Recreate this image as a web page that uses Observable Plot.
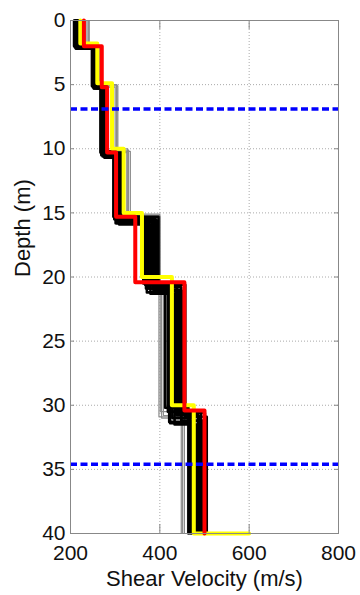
<!DOCTYPE html>
<html>
<head>
<meta charset="utf-8">
<script src="https://cdn.jsdelivr.net/npm/d3@7"></script>
<script src="https://cdn.jsdelivr.net/npm/@observablehq/plot@0.6"></script>
<style>
  html, body { margin: 0; padding: 0; background: #fff; }
  #chart { width: 360px; height: 595px; }
</style>
</head>
<body>
<div id="chart"></div>
<script>
// Axis ticks
const depthTicks = [0, 5, 10, 15, 20, 25, 30, 35, 40];
const velocityTicks = [200, 400, 600, 800];
const gridDepths = [5, 10, 15, 20, 25, 30, 35];
const gridVelocities = [400, 600];

// Depths of the two dashed reference lines (m)
const markerDepths = [6.9, 34.6];

// Ensemble of trial profiles: layer interface depths (m) and layer velocities (m/s)
const ensembleInterfaces = [
  [2.0, 5.1, 10.3, 15.3, 20.5, 30.2],
  [2.1, 5.2, 10.4, 15.5, 20.6, 30.5],
  [2.2, 5.3, 10.6, 15.8, 21.2, 31.4],
  [2.1, 5.1, 10.5, 15.6, 20.9, 31.0],
  [2.0, 5.2, 10.7, 15.9, 21.3, 31.5],
  [2.2, 5.3, 10.4, 15.4, 20.7, 30.8],
  [2.1, 5.0, 10.3, 15.7, 21.0, 30.4],
  [2.0, 5.2, 10.5, 15.5, 20.8, 31.2],
  [2.2, 5.1, 10.6, 15.6, 21.1, 30.6],
  [2.1, 5.3, 10.4, 15.3, 20.6, 30.9],
  [2.0, 5.2, 10.2, 15.8, 20.9, 31.3],
  [2.1, 5.1, 10.5, 15.4, 21.0, 30.7]
];
const ensembleVelocities = [
  [208, 248, 267, 296, 363, 412, 464],
  [210, 250, 270, 300, 367, 418, 468],
  [212, 252, 272, 303, 371, 423, 472],
  [214, 254, 274, 306, 375, 428, 477],
  [216, 256, 276, 309, 379, 433, 482],
  [218, 258, 278, 312, 383, 438, 487],
  [220, 251, 280, 314, 387, 443, 492],
  [211, 255, 269, 298, 391, 448, 497],
  [215, 249, 275, 304, 394, 452, 501],
  [217, 253, 271, 310, 397, 457, 505],
  [213, 257, 277, 301, 369, 421, 474],
  [219, 250, 273, 307, 385, 436, 485]
];

// Outlying trial profiles (drawn in grey)
const outlierInterfaces = [
  [2.0, 5.0, 10.1, 15.2, 20.3, 30.9],
  [2.1, 5.1, 10.2, 15.3, 20.4, 31.0],
  [2.0, 5.2, 10.3, 15.4, 20.5, 30.8],
  [2.2, 5.0, 10.0, 15.1, 20.2, 30.5]
];
const outlierVelocities = [
  [237, 262, 303, 330, 399, 398, 448],
  [242, 265, 306, 334, 401, 404, 455],
  [234, 258, 300, 326, 398, 408, 462],
  [240, 256, 304, 328, 400, 401, 451]
];

// Median profile (yellow), ending with the half-space velocity at 40 m
const medianInterfaces = [1.8, 4.9, 10.0, 15.0, 20.0, 30.0];
const medianVelocities = [222, 260, 293, 319, 360, 427, 476];
const medianHalfSpace = 600;

// Best-fit profile (red)
const bestInterfaces = [2.0, 5.2, 10.3, 15.3, 20.4, 30.4];
const bestVelocities = [230, 270, 282, 302, 345, 455, 500];

const maxDepth = 40;

// Turn a layered model into the vertices of its step line
function stepRows(interfaces, velocities, id) {
  const rows = [];
  let top = 0;
  velocities.forEach((v, i) => {
    const bottom = i < interfaces.length ? interfaces[i] : maxDepth;
    rows.push({v, d: top, id});
    rows.push({v, d: bottom, id});
    top = bottom;
  });
  return rows;
}

const ensembleRows = ensembleVelocities.flatMap((vs, i) => stepRows(ensembleInterfaces[i], vs, "e" + i));
const outlierRows = outlierVelocities.flatMap((vs, i) => stepRows(outlierInterfaces[i], vs, "o" + i));
const medianRows = stepRows(medianInterfaces, medianVelocities, "median");
medianRows.push({v: medianHalfSpace, d: maxDepth, id: "median"});
const bestRows = stepRows(bestInterfaces, bestVelocities, "best");

const font = "'Liberation Sans', Arial, Helvetica, sans-serif";

const chart = Plot.plot({
  width: 360,
  height: 595,
  marginLeft: 70,
  marginRight: 22,
  marginTop: 20,
  marginBottom: 62,
  style: {fontFamily: font, fontSize: "20px", color: "#111", background: "#fff"},
  x: {domain: [200, 800]},
  y: {domain: [0, maxDepth], reverse: true},
  marks: [
    // dotted grid
    Plot.ruleX(gridVelocities, {stroke: "#aaa", strokeWidth: 1, strokeDasharray: "1,2"}),
    Plot.ruleY(gridDepths, {stroke: "#aaa", strokeWidth: 1, strokeDasharray: "1,2"}),
    // trial profiles
    Plot.line(outlierRows, {x: "v", y: "d", z: "id", stroke: "#8c8c8c", strokeWidth: 1.2}),
    Plot.line(ensembleRows, {x: "v", y: "d", z: "id", stroke: "#000", strokeWidth: 2.6}),
    Plot.line(medianRows, {x: "v", y: "d", z: "id", stroke: "#ffff00", strokeWidth: 4}),
    Plot.line(bestRows, {x: "v", y: "d", z: "id", stroke: "#ff0000", strokeWidth: 4}),
    // dashed reference depths
    Plot.ruleY(markerDepths, {stroke: "#0000ff", strokeWidth: 3.5, strokeDasharray: "7,3.5"}),
    // inward tick marks on all four sides
    Plot.ruleY(depthTicks, {x1: 200, x2: 209, stroke: "#888"}),
    Plot.ruleY(depthTicks, {x1: 791, x2: 800, stroke: "#888"}),
    Plot.ruleX(velocityTicks, {y1: 40, y2: 39.3, stroke: "#888"}),
    Plot.ruleX(velocityTicks, {y1: 0, y2: 0.7, stroke: "#888"}),
    Plot.frame({stroke: "#888", strokeWidth: 1}),
    Plot.axisX({ticks: velocityTicks, tickSize: 0, tickPadding: 12, label: null, fontSize: 21}),
    Plot.axisY({ticks: depthTicks, tickSize: 0, tickPadding: 5, label: null, fontSize: 21}),
    Plot.text(["Shear Velocity (m/s)"], {frameAnchor: "bottom", dy: 52, fontSize: 22, fill: "#111"}),
    Plot.text(["Depth (m)"], {frameAnchor: "left", dx: -48, rotate: -90, fontSize: 22, fill: "#111"})
  ]
});

document.getElementById("chart").appendChild(chart);
</script>
</body>
</html>
